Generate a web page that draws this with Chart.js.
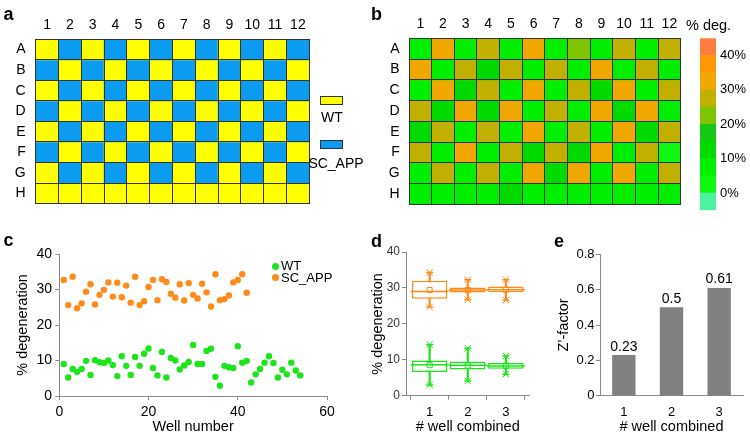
<!DOCTYPE html>
<html>
<head>
<meta charset="utf-8">
<script src="https://cdn.jsdelivr.net/npm/chart.js"></script>
<style>
  body { margin: 0; width: 750px; height: 437px; background: #fff; position: relative; overflow: hidden;
         font-family: "Liberation Sans", Arial, sans-serif; color: #000; }
  canvas { position: absolute; }
  .panel { position: absolute; font-weight: bold; font-size: 18px; line-height: 18px; }
  .txt { position: absolute; white-space: nowrap; }
  .swatch { position: absolute; box-sizing: border-box; border: 1px solid #333; }
  .dot { position: absolute; border-radius: 50%; }
</style>
</head>
<body>
<canvas id="plateA" width="375" height="222" style="left:0;top:0"></canvas>
<canvas id="plateB" width="375" height="222" style="left:375px;top:0"></canvas>
<canvas id="cbar" width="60" height="222" style="left:690px;top:0"></canvas>
<canvas id="scatterC" width="340" height="212" style="left:0;top:225px"></canvas>
<canvas id="boxD" width="200" height="212" style="left:350px;top:225px"></canvas>
<canvas id="barE" width="200" height="212" style="left:550px;top:225px"></canvas>

<div class="panel" style="left:3.5px;top:4.8px">a</div>
<div class="panel" style="left:371px;top:4.8px">b</div>
<div class="panel" style="left:3.5px;top:230.8px">c</div>
<div class="panel" style="left:371px;top:231.5px">d</div>
<div class="panel" style="left:554px;top:231.5px">e</div>

<!-- legend panel a -->
<div class="swatch" style="left:320px;top:96px;width:23px;height:9px;background:#FFFF00"></div>
<div class="txt" style="left:292px;width:80px;text-align:center;top:109px;line-height:16px;font-size:14px">WT</div>
<div class="swatch" style="left:320px;top:140px;width:23px;height:9px;background:#0B9BF0"></div>
<div class="txt" style="left:296px;width:80px;text-align:center;top:154.5px;line-height:16px;font-size:14px">SC_APP</div>

<div class="txt" style="left:686px;top:17px;line-height:16px;font-size:14.5px">% deg.</div>

<!-- legend panel c -->
<div class="dot" style="left:271.5px;top:262.5px;width:7px;height:7px;background:#1AE61A"></div>
<div class="txt" style="left:281px;top:258px;line-height:16px;font-size:13px">WT</div>
<div class="dot" style="left:271.5px;top:274px;width:7px;height:7px;background:#FF8C1A"></div>
<div class="txt" style="left:281px;top:270px;line-height:16px;font-size:13px">SC_APP</div>

<script>
// plate layout
const plateCols = ['1', '2', '3', '4', '5', '6', '7', '8', '9', '10', '11', '12'];
const plateRows = ['A', 'B', 'C', 'D', 'E', 'F', 'G', 'H'];
// 0 = WT, 1 = SC_APP
const plateLayout = [
  [0, 1, 0, 1, 0, 1, 0, 1, 0, 1, 0, 1],
  [1, 0, 1, 0, 1, 0, 1, 0, 1, 0, 1, 0],
  [0, 1, 0, 1, 0, 1, 0, 1, 0, 1, 0, 1],
  [1, 0, 1, 0, 1, 0, 1, 0, 1, 0, 1, 0],
  [0, 1, 0, 1, 0, 1, 0, 1, 0, 1, 0, 1],
  [1, 0, 1, 0, 1, 0, 1, 0, 1, 0, 1, 0],
  [0, 1, 0, 1, 0, 1, 0, 1, 0, 1, 0, 1],
  [0, 0, 0, 0, 0, 0, 0, 0, 0, 0, 0, 0]
];
const layoutColors = ['#FFFF00', '#0B9BF0'];

// % degeneration per well (panel b)
const degPlate = [
  [8, 32, 7, 27, 8, 33, 9, 24, 7, 28, 8, 27],
  [32, 8, 28, 12, 27, 9, 26, 8, 33, 9, 28, 7],
  [7, 31, 12, 28, 8, 33, 9, 27, 11, 32, 8, 27],
  [27, 13, 34, 12, 31, 9, 28, 8, 32, 12, 32, 9],
  [12, 28, 8, 27, 9, 32, 7, 26, 8, 33, 13, 27],
  [28, 8, 31, 9, 27, 12, 28, 13, 31, 8, 26, 3],
  [9, 26, 8, 28, 7, 34, 11, 32, 8, 31, 7, 28],
  [8, 7, 9, 8, 11, 7, 8, 9, 6, 8, 7, 6]
];

// colour scale (5% steps)
const scaleSteps = [-5, 0, 5, 10, 15, 20, 25, 30, 35, 40, 45];
const scaleColors = ['#4DF2A0', '#10F810', '#00EE00', '#00DA00', '#14C814',
                     '#7EC400', '#C2B000', '#F0A800', '#FF9800', '#FF7C40'];
const scaleTicks = [0, 10, 20, 30, 40];

// panel c
const wtDeg = [9.0, 5.2, 7.6, 6.8, 7.6, 9.9, 5.9, 10.1, 9.5, 9.3, 10.0, 8.7, 5.6, 11.2, 8.5, 5.9, 11.0, 8.5,
  11.9, 13.4, 7.9, 5.8, 12.4, 5.2, 10.7, 10.0, 7.5, 8.6, 9.6, 14.4, 9.0, 9.0, 12.7, 13.3, 5.4, 2.9, 8.5, 8.1,
  7.9, 14.0, 9.4, 9.9, 3.8, 6.1, 7.6, 9.4, 11.2, 9.3, 5.2, 7.4, 6.1, 9.4, 7.2, 5.8];
const scDeg = [32.7, 25.6, 33.6, 24.7, 26.1, 29.4, 31.5, 25.8, 28.5, 29.9, 32.0, 28.0, 31.9, 27.8, 31.1, 26.3,
  33.6, 25.6, 26.7, 30.7, 32.7, 27.0, 32.9, 32.1, 28.8, 27.7, 31.5, 26.9, 31.8, 28.5, 27.5, 31.6, 29.2, 25.2,
  34.3, 27.0, 27.3, 28.3, 32.0, 32.7, 34.3, 29.1];

// panel d (box stats per # wells combined)
const boxGroups = [1, 2, 3];
const scMin = [24.7, 26.7, 26.6];
const scQ1 = [27.0, 28.7, 28.8];
const scMed = [29.0, 29.4, 29.5];
const scQ3 = [32.0, 30.1, 30.4];
const scMax = [34.3, 32.3, 32.3];
const scMean = [29.4, 29.4, 29.5];
const wtMin = [3.0, 4.1, 6.0];
const wtQ1 = [6.6, 7.3, 7.5];
const wtMed = [8.6, 8.5, 8.3];
const wtQ3 = [9.8, 9.5, 9.1];
const wtMax = [14.2, 13.2, 11.1];
const wtMean = [8.5, 8.4, 8.3];

// panel e
const zGroups = ['1', '2', '3'];
const zFactor = [0.23, 0.5, 0.61];

Chart.defaults.font.family = '"Liberation Sans", Arial, sans-serif';
Chart.defaults.color = '#000';

const lineCol = '#333';
const axisGray = '#8a8a8a';
const green = '#1AE61A';
const orange = '#FF8C1A';
const noPlugins = { legend: { display: false }, tooltip: { enabled: false } };

function scaleColor(v) {
  let i = 0;
  while (i < scaleColors.length - 1 && v >= scaleSteps[i + 1]) i++;
  return scaleColors[i];
}

//PLATE HEATMAPS
function drawPlate(id, cellColor, box) {
  const datasets = plateRows.map((row, r) => ({
    label: row,
    data: plateCols.map(() => [r, r + 1]),
    backgroundColor: plateCols.map((col, c) => cellColor(r, c)),
    borderWidth: 0,
    barPercentage: 1,
    categoryPercentage: 1,
    grouped: false
  }));

  new Chart(document.getElementById(id), {
    type: 'bar',
    data: { labels: plateCols, datasets: datasets },
    options: {
      responsive: false,
      animation: false,
      devicePixelRatio: 1,
      layout: { padding: { left: 0, top: 0, right: box.right, bottom: box.bottom } },
      plugins: noPlugins,
      scales: {
        x: {
          position: 'top',
          grid: { color: lineCol, drawTicks: false, offset: true, z: 1 },
          border: { color: lineCol, z: 1 },
          ticks: { padding: 6, font: { size: 14 } },
          afterFit: (s) => { s.height = box.top; }
        },
        y: {
          min: 0, max: 8, reverse: true,
          ticks: { display: false, stepSize: 1 },
          grid: { color: lineCol, drawTicks: false, z: 1 },
          border: { color: lineCol, z: 1 },
          afterFit: (s) => { s.width = 0; }
        },
        yr: {
          type: 'linear', position: 'right', min: 0, max: 8,
          ticks: { display: false },
          grid: { display: false, drawTicks: false },
          border: { color: lineCol, z: 1 },
          afterFit: (s) => { s.width = 0; }
        },
        rows: {
          type: 'linear', position: 'left', min: 0, max: 8, reverse: true,
          grid: { display: false, drawTicks: false },
          border: { display: false },
          afterBuildTicks: (s) => { s.ticks = plateRows.map((r, i) => ({ value: i + 0.5 })); },
          ticks: { padding: box.labelPad, font: { size: 14 }, callback: (v, i) => plateRows[i] },
          afterFit: (s) => { s.width = box.left; }
        }
      }
    }
  });
}

drawPlate('plateA', (r, c) => layoutColors[plateLayout[r][c]],
  { left: 35.7, top: 39.3, right: 65.7, bottom: 3.3, labelPad: 10 });
drawPlate('plateB', (r, c) => scaleColor(degPlate[r][c]),
  { left: 34, top: 38.3, right: 69.3, bottom: 3, labelPad: 9.3 });

//COLOR BAR
new Chart(document.getElementById('cbar'), {
  type: 'bar',
  data: {
    labels: [''],
    datasets: scaleColors.map((col, i) => ({
      data: [[scaleSteps[i], scaleSteps[i + 1]]],
      backgroundColor: col,
      borderWidth: 0,
      barPercentage: 1,
      categoryPercentage: 1,
      grouped: false
    }))
  },
  options: {
    responsive: false,
    animation: false,
    devicePixelRatio: 1,
    layout: { padding: { left: 10, top: 38.3, right: 0, bottom: 5.3 } },
    plugins: noPlugins,
    scales: {
      x: { display: false },
      y: {
        position: 'right', min: -5, max: 45,
        grid: { display: false, drawTicks: false },
        border: { display: false },
        afterBuildTicks: (s) => { s.ticks = scaleTicks.map((v) => ({ value: v })); },
        ticks: { padding: 4, font: { size: 13 }, callback: (v) => v + '%' },
        afterFit: (s) => { s.width = 34; }
      }
    }
  }
});

//SCATTER
new Chart(document.getElementById('scatterC'), {
  type: 'scatter',
  data: {
    datasets: [
      { label: 'WT', data: wtDeg.map((v, i) => ({ x: i + 1, y: v })), backgroundColor: green, borderWidth: 0, pointRadius: 3.2 },
      { label: 'SC_APP', data: scDeg.map((v, i) => ({ x: i + 1, y: v })), backgroundColor: orange, borderWidth: 0, pointRadius: 3.2 }
    ]
  },
  options: {
    responsive: false,
    animation: false,
    devicePixelRatio: 1,
    layout: { padding: { left: 0, top: 29, right: 13, bottom: 0 } },
    plugins: noPlugins,
    scales: {
      x: {
        min: 0, max: 60,
        ticks: { stepSize: 20, padding: 3.6, font: { size: 14 } },
        grid: { drawOnChartArea: false, tickLength: 4, color: axisGray },
        border: { color: axisGray },
        title: { display: true, text: 'Well number', font: { size: 14.5 }, padding: { top: 0, bottom: 1.6 } },
        afterFit: (s) => { s.height = 41; }
      },
      y: {
        min: 0, max: 40,
        ticks: { stepSize: 10, padding: 3.3, font: { size: 14 } },
        grid: { drawOnChartArea: false, tickLength: 4, color: axisGray },
        border: { color: axisGray },
        title: { display: true, text: '% degeneration', font: { size: 14.5 }, padding: { top: 14.3, bottom: 0 } },
        afterFit: (s) => { s.width = 59.3; }
      }
    }
  }
});

//BOX PLOT
function boxSets(color, min, q1, med, q3, max, mean) {
  const pts = (arr) => boxGroups.map((g, i) => ({ x: g, y: arr[i] }));
  return [
    { type: 'scatter', data: pts(mean), pointStyle: 'rect', pointRadius: 3.6, borderColor: color, backgroundColor: 'rgba(0,0,0,0)', borderWidth: 1, order: 0 },
    { type: 'scatter', data: pts(med), pointStyle: 'line', pointRadius: 19, borderColor: color, borderWidth: 1.5, order: 0 },
    { type: 'scatter', data: pts(min).concat(pts(max)), pointStyle: 'line', pointRadius: 3.5, borderColor: color, borderWidth: 1.5, order: 0 },
    { type: 'scatter', data: pts(min).concat(pts(max)), pointStyle: 'crossRot', pointRadius: 4.5, borderColor: color, borderWidth: 1, order: 0 },
    { type: 'bar', data: boxGroups.map((g, i) => ({ x: g, y: [q1[i], q3[i]] })), backgroundColor: '#fff', borderColor: color,
      borderWidth: 1.5, borderSkipped: false, barPercentage: 0.93, categoryPercentage: 1, grouped: false, order: 1 },
    { type: 'bar', data: boxGroups.map((g, i) => ({ x: g, y: [min[i], max[i]] })), backgroundColor: color,
      borderWidth: 0, barThickness: 1.5, grouped: false, order: 2 }
  ];
}

new Chart(document.getElementById('boxD'), {
  type: 'bar',
  data: {
    datasets: boxSets(orange, scMin, scQ1, scMed, scQ3, scMax, scMean)
      .concat(boxSets(green, wtMin, wtQ1, wtMed, wtQ3, wtMax, wtMean))
  },
  options: {
    responsive: false,
    animation: false,
    devicePixelRatio: 1,
    layout: { padding: { left: 0, top: 27, right: 9, bottom: 0 } },
    plugins: noPlugins,
    scales: {
      x: {
        type: 'linear', min: 0.38, max: 3.62, offset: false,
        afterBuildTicks: (s) => { s.ticks = boxGroups.map((g) => ({ value: g })); },
        ticks: { padding: 4.8, font: { size: 13 } },
        grid: { drawOnChartArea: false, tickLength: 4, color: axisGray },
        border: { color: axisGray },
        title: { display: true, text: '# well combined', font: { size: 14.5 }, padding: { top: 0, bottom: 1.3 } },
        afterFit: (s) => { s.height = 41.3; }
      },
      y: {
        min: 0, max: 40,
        ticks: { stepSize: 10, padding: 2, font: { size: 12 }, color: '#333' },
        grid: { drawOnChartArea: false, tickLength: 4, color: axisGray },
        border: { color: axisGray },
        title: { display: true, text: '% degeneration', font: { size: 14.5 }, padding: { top: 18.9, bottom: 0 } },
        afterFit: (s) => { s.width = 56; }
      }
    }
  }
});

//BAR CHART
const barValueLabels = {
  id: 'barValueLabels',
  afterDatasetsDraw(chart) {
    const ctx = chart.ctx;
    const meta = chart.getDatasetMeta(0);
    ctx.save();
    ctx.font = '14px "Liberation Sans", Arial, sans-serif';
    ctx.fillStyle = '#000';
    ctx.textAlign = 'center';
    ctx.textBaseline = 'alphabetic';
    meta.data.forEach((bar, i) => ctx.fillText(String(zFactor[i]), bar.x, bar.y - 4.5));
    ctx.restore();
  }
};

new Chart(document.getElementById('barE'), {
  type: 'bar',
  data: {
    labels: zGroups,
    datasets: [{ data: zFactor, backgroundColor: '#808080', borderWidth: 0, barPercentage: 0.49, categoryPercentage: 1 }]
  },
  options: {
    responsive: false,
    animation: false,
    devicePixelRatio: 1,
    layout: { padding: { left: 0, top: 29.3, right: 7, bottom: 0 } },
    plugins: noPlugins,
    scales: {
      x: {
        grid: { display: false, drawTicks: false },
        border: { color: axisGray },
        ticks: { padding: 8.5, font: { size: 13 } },
        title: { display: true, text: '# well combined', font: { size: 14.5 }, padding: { top: 0, bottom: 1.6 } },
        afterFit: (s) => { s.height = 41.3; }
      },
      y: {
        min: 0, max: 0.8,
        ticks: { stepSize: 0.2, padding: 1.5, font: { size: 13 }, callback: (v) => (v === 0 ? '0' : v.toFixed(1)) },
        grid: { drawOnChartArea: false, tickLength: 4, color: axisGray },
        border: { color: axisGray },
        title: { display: true, text: 'Z\u2019-factor', font: { size: 14.5 }, padding: { top: 5.6, bottom: 0 } },
        afterFit: (s) => { s.width = 50; }
      }
    }
  },
  plugins: [barValueLabels]
});
</script>
</body>
</html>
